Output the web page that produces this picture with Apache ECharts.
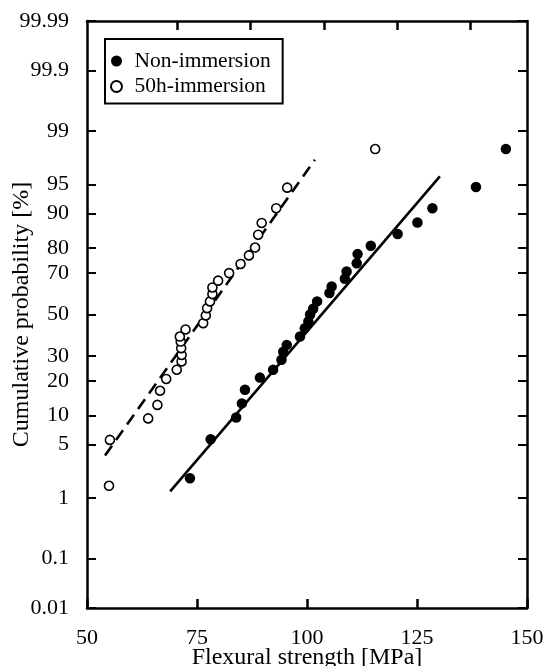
<!DOCTYPE html>
<html>
<head>
<meta charset="utf-8">
<script src="https://cdn.jsdelivr.net/npm/echarts@6/dist/echarts.min.js"></script>
<style>
html,body{margin:0;padding:0;background:#fff;}
#chart{width:545px;height:666px;}
</style>
</head>
<body>
<div id="chart"></div>
<script>
// ---- Data ----
const nonStrength = [73.4, 78.1, 83.9, 85.2, 85.9, 89.3, 92.3, 94.2, 94.6, 95.4, 98.4, 99.5, 100.3, 100.7, 101.4, 102.3, 105.1, 105.6, 108.6, 109.0, 111.3, 111.5, 114.5, 120.6, 125.1, 128.5, 138.4, 145.2];
const nonProb = [1.9, 5.7, 9.6, 13.0, 17.0, 21.2, 24.2, 28.3, 31.9, 35.0, 39.0, 43.1, 46.5, 50.0, 52.9, 56.6, 60.7, 63.9, 67.5, 70.7, 74.2, 77.8, 80.8, 84.6, 87.8, 91.1, 94.7, 98.2];
const immStrength = [55.0, 55.2, 63.9, 66.0, 66.6, 68.0, 70.4, 71.5, 71.5, 71.4, 71.3, 71.1, 72.4, 76.4, 77.0, 77.3, 77.95, 78.5, 78.5, 79.8, 82.3, 84.9, 86.8, 88.2, 88.9, 89.7, 93.0, 95.5, 115.5];
const immProb = [1.5, 5.6, 9.4, 12.6, 16.7, 20.7, 24.2, 27.6, 30.4, 33.5, 36.6, 39.0, 42.5, 45.6, 49.5, 53.2, 56.6, 60.2, 63.4, 66.6, 70.0, 73.9, 77.3, 80.2, 84.4, 87.7, 91.1, 94.6, 98.2];
const nonFitStrength = [68.9, 130.2];
const nonFitProb = [1.25, 96.0];
const immFitStrength = [54.1, 101.8];
const immFitProb = [3.7, 97.5];
const yTickLabels = ['0.01', '0.1', '1', '5', '10', '20', '30', '50', '70', '80', '90', '95', '99', '99.9', '99.99'];
const xTickValues = [50, 75, 100, 125, 150];
const topTickValues = [70.5, 87, 104, 120.5, 137];
const seriesNames = ['Non-immersion', '50h-immersion'];

// ---- Normal probability scale (inverse normal CDF) ----
function probit(p) {
  const a=[-3.969683028665376e+01,2.209460984245205e+02,-2.759285104469687e+02,1.383577518672690e+02,-3.066479806614716e+01,2.506628277459239e+00];
  const b=[-5.447609879822406e+01,1.615858368580409e+02,-1.556989798598866e+02,6.680131188771972e+01,-1.328068155288572e+01];
  const c=[-7.784894002430293e-03,-3.223964580411365e-01,-2.400758277161838e+00,-2.549671348133615e+00,4.374664141464968e+00,2.938163982698783e+00];
  const d=[7.784695709041462e-03,3.224671290700398e-01,2.445134137142996e+00,3.754408661907416e+00];
  const pl=0.02425, ph=1-pl; let q, r;
  if (p < pl) { q=Math.sqrt(-2*Math.log(p)); return (((((c[0]*q+c[1])*q+c[2])*q+c[3])*q+c[4])*q+c[5])/((((d[0]*q+d[1])*q+d[2])*q+d[3])*q+1); }
  if (p <= ph) { q=p-0.5; r=q*q; return (((((a[0]*r+a[1])*r+a[2])*r+a[3])*r+a[4])*r+a[5])*q/(((((b[0]*r+b[1])*r+b[2])*r+b[3])*r+b[4])*r+1); }
  q=Math.sqrt(-2*Math.log(1-p)); return -(((((c[0]*q+c[1])*q+c[2])*q+c[3])*q+c[4])*q+c[5])/((((d[0]*q+d[1])*q+d[2])*q+d[3])*q+1);
}
const z = pct => probit(pct / 100);
const yTickValues = yTickLabels.map(s => z(parseFloat(s)));
const yMin = yTickValues[0], yMax = yTickValues[yTickValues.length - 1];
function yLabel(v) {
  let best = 0, bd = Infinity;
  yTickValues.forEach((t, i) => { const dd = Math.abs(t - v); if (dd < bd) { bd = dd; best = i; } });
  return yTickLabels[best];
}
const pairs = (xs, ps) => xs.map((x, i) => [x, z(ps[i])]);

const FONT = 'Liberation Serif';
const chart = echarts.init(document.getElementById('chart'), null, { renderer: 'canvas' });
chart.setOption({
  backgroundColor: '#fff',
  animation: false,
  grid: { left: 87, right: 18, top: 21, bottom: 58, containLabel: false, outerBoundsMode: 'none' },
  legend: {
    data: seriesNames,
    orient: 'vertical',
    left: 105, top: 39,
    padding: [11, 12, 6, 5],
    itemGap: 3.5,
    itemWidth: 26, itemHeight: 11,
    borderColor: '#000', borderWidth: 2, borderRadius: 0,
    backgroundColor: '#fff',
    textStyle: { fontFamily: FONT, fontSize: 21.5, color: '#000', lineHeight: 21 }
  },
  xAxis: [{
    type: 'value', min: 50, max: 150, interval: 25, position: 'bottom',
    name: 'Flexural strength [MPa]', nameLocation: 'middle', nameGap: 38, nameMoveOverlap: false,
    nameTextStyle: { fontFamily: FONT, fontSize: 24, color: '#000' },
    axisLine: { onZero: false, lineStyle: { color: '#000', width: 2.5 } },
    axisTick: { inside: true, length: 9, lineStyle: { color: '#000', width: 2.5 } },
    axisLabel: { fontFamily: FONT, fontSize: 22, color: '#000', margin: 19 },
    splitLine: { show: false }
  }, {
    type: 'value', min: 50, max: 150, position: 'top',
    axisLine: { show: true, onZero: false, lineStyle: { color: '#000', width: 2.5 } },
    axisTick: { show: true, inside: true, length: 9, customValues: topTickValues, lineStyle: { color: '#000', width: 2.5 } },
    axisLabel: { show: false },
    splitLine: { show: false }
  }],
  yAxis: [{
    type: 'value', min: yMin, max: yMax, position: 'left',
    name: 'Cumulative probability [%]', nameLocation: 'middle', nameGap: 53, nameRotate: 90, nameMoveOverlap: false,
    nameTextStyle: { fontFamily: FONT, fontSize: 24, color: '#000' },
    axisLine: { show: true, onZero: false, lineStyle: { color: '#000', width: 2.5 } },
    axisTick: { show: true, inside: true, length: 9, customValues: yTickValues, lineStyle: { color: '#000', width: 2 } },
    axisLabel: { fontFamily: FONT, fontSize: 22, color: '#000', margin: 18, customValues: yTickValues, formatter: v => yLabel(v) },
    splitLine: { show: false }
  }, {
    type: 'value', min: yMin, max: yMax, position: 'right',
    axisLine: { show: true, onZero: false, lineStyle: { color: '#000', width: 2.5 } },
    axisTick: { show: true, inside: true, length: 9, customValues: yTickValues, lineStyle: { color: '#000', width: 2 } },
    axisLabel: { show: false },
    splitLine: { show: false }
  }],
  series: [{
    name: 'fitNon', type: 'line', data: pairs(nonFitStrength, nonFitProb),
    symbol: 'none', lineStyle: { color: '#000', width: 2.6 }, z: 1, silent: true
  }, {
    name: 'fitImm', type: 'line', data: pairs(immFitStrength, immFitProb),
    symbol: 'none', lineStyle: { color: '#000', width: 2.6, type: [12, 7] }, z: 1, silent: true
  }, {
    name: seriesNames[0], type: 'scatter', data: pairs(nonStrength, nonProb),
    symbol: 'circle', symbolSize: 10.5,
    itemStyle: { color: '#000', borderColor: '#000', borderWidth: 0, opacity: 1 }, z: 3
  }, {
    name: seriesNames[1], type: 'scatter', data: pairs(immStrength, immProb),
    symbol: 'circle', symbolSize: 9,
    itemStyle: { color: '#fff', borderColor: '#000', borderWidth: 1.6, opacity: 1 }, z: 3
  }]
});
</script>
</body>
</html>
